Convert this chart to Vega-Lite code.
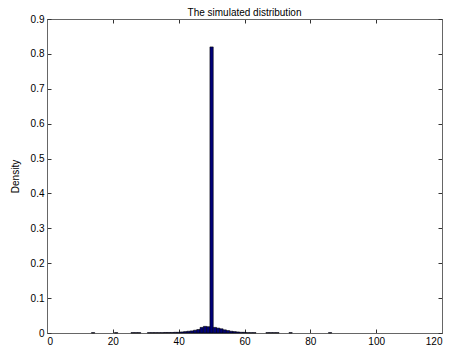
{
  "$schema": "https://vega.github.io/schema/vega-lite/v6.json",
  "autosize": {"type": "none"},
  "width": 395,
  "height": 314,
  "padding": {"left": 47, "top": 19, "right": 8, "bottom": 21},
  "background": "white",
  "title": {"text": "The simulated distribution", "font": "Liberation Sans", "fontSize": 10, "fontWeight": "normal", "color": "black", "offset": -4},
  "config": {
    "view": {"stroke": "#666666", "strokeWidth": 1},
    "axis": {"grid": false, "labelFont": "Liberation Sans", "labelFontSize": 10, "labelColor": "black", "titleFont": "Liberation Sans", "titleFontSize": 10, "titleFontWeight": "normal", "titleColor": "black", "domainColor": "#666666", "tickColor": "#333333", "tickSize": -4, "labelPadding": 7, "labelExpr": "'' + datum.value"}
  },
  "data": {"values": [
    {"bin_start": 13.5, "bin_end": 14.5, "density": 0.001},
    {"bin_start": 20.5, "bin_end": 21.5, "density": 0.001},
    {"bin_start": 25.5, "bin_end": 26.5, "density": 0.001},
    {"bin_start": 26.5, "bin_end": 27.5, "density": 0.001},
    {"bin_start": 27.5, "bin_end": 28.5, "density": 0.001},
    {"bin_start": 30.5, "bin_end": 31.5, "density": 0.001},
    {"bin_start": 31.5, "bin_end": 32.5, "density": 0.001},
    {"bin_start": 32.5, "bin_end": 33.5, "density": 0.001},
    {"bin_start": 33.5, "bin_end": 34.5, "density": 0.001},
    {"bin_start": 34.5, "bin_end": 35.5, "density": 0.001},
    {"bin_start": 35.5, "bin_end": 36.5, "density": 0.0015},
    {"bin_start": 36.5, "bin_end": 37.5, "density": 0.0015},
    {"bin_start": 37.5, "bin_end": 38.5, "density": 0.0015},
    {"bin_start": 38.5, "bin_end": 39.5, "density": 0.002},
    {"bin_start": 39.5, "bin_end": 40.5, "density": 0.002},
    {"bin_start": 40.5, "bin_end": 41.5, "density": 0.003},
    {"bin_start": 41.5, "bin_end": 42.5, "density": 0.004},
    {"bin_start": 42.5, "bin_end": 43.5, "density": 0.005},
    {"bin_start": 43.5, "bin_end": 44.5, "density": 0.006},
    {"bin_start": 44.5, "bin_end": 45.5, "density": 0.008},
    {"bin_start": 45.5, "bin_end": 46.5, "density": 0.01},
    {"bin_start": 46.5, "bin_end": 47.5, "density": 0.016},
    {"bin_start": 47.5, "bin_end": 48.5, "density": 0.019},
    {"bin_start": 48.5, "bin_end": 49.5, "density": 0.018},
    {"bin_start": 49.5, "bin_end": 50.5, "density": 0.82},
    {"bin_start": 50.5, "bin_end": 51.5, "density": 0.016},
    {"bin_start": 51.5, "bin_end": 52.5, "density": 0.014},
    {"bin_start": 52.5, "bin_end": 53.5, "density": 0.012},
    {"bin_start": 53.5, "bin_end": 54.5, "density": 0.009},
    {"bin_start": 54.5, "bin_end": 55.5, "density": 0.007},
    {"bin_start": 55.5, "bin_end": 56.5, "density": 0.005},
    {"bin_start": 56.5, "bin_end": 57.5, "density": 0.004},
    {"bin_start": 57.5, "bin_end": 58.5, "density": 0.003},
    {"bin_start": 58.5, "bin_end": 59.5, "density": 0.002},
    {"bin_start": 59.5, "bin_end": 60.5, "density": 0.002},
    {"bin_start": 60.5, "bin_end": 61.5, "density": 0.001},
    {"bin_start": 61.5, "bin_end": 62.5, "density": 0.001},
    {"bin_start": 62.5, "bin_end": 63.5, "density": 0.001},
    {"bin_start": 66.5, "bin_end": 67.5, "density": 0.001},
    {"bin_start": 67.5, "bin_end": 68.5, "density": 0.001},
    {"bin_start": 68.5, "bin_end": 69.5, "density": 0.001},
    {"bin_start": 69.5, "bin_end": 70.5, "density": 0.001},
    {"bin_start": 73.5, "bin_end": 74.5, "density": 0.001},
    {"bin_start": 85.5, "bin_end": 86.5, "density": 0.001}
  ]},
  "layer": [
    {
      "mark": {"type": "bar", "fill": "#00007a", "stroke": "black", "strokeWidth": 0.6},
      "encoding": {
        "x": {"field": "bin_start", "type": "quantitative", "scale": {"domain": [0, 120], "nice": false, "zero": false}, "axis": {"orient": "bottom", "values": [0, 20, 40, 60, 80, 100, 120], "title": null}},
        "x2": {"field": "bin_end"},
        "y": {"field": "density", "type": "quantitative", "scale": {"domain": [0, 0.9], "nice": false}, "axis": {"orient": "left", "values": [0, 0.1, 0.2, 0.3, 0.4, 0.5, 0.6, 0.7, 0.8, 0.9], "title": "Density", "titlePadding": 10}},
        "y2": {"datum": 0}
      }
    },
    {
      "mark": {"type": "rule", "opacity": 0},
      "encoding": {
        "x": {"field": "bin_start", "type": "quantitative", "axis": {"orient": "top", "values": [0, 20, 40, 60, 80, 100, 120], "labels": false, "labelPadding": 0, "title": null}},
        "y": {"field": "density", "type": "quantitative", "axis": {"orient": "right", "values": [0, 0.1, 0.2, 0.3, 0.4, 0.5, 0.6, 0.7, 0.8, 0.9], "labels": false, "labelPadding": 0, "title": null}}
      }
    }
  ],
  "resolve": {"axis": {"x": "independent", "y": "independent"}}
}
